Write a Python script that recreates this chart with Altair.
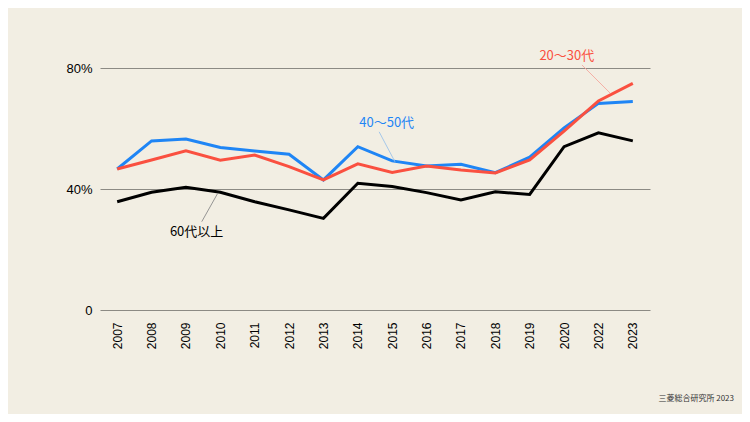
import altair as alt
import pandas as pd

years = ["2007", "2008", "2009", "2010", "2011", "2012", "2013", "2014", "2015",
         "2016", "2017", "2018", "2019", "2020", "2022", "2023"]
s_2030 = [46.6, 49.6, 52.6, 49.5, 51.2, 47.4, 43.0, 48.3, 45.5, 47.6, 46.3, 45.3, 49.6, 59.1, 69.1, 74.9]
s_4050 = [46.6, 55.9, 56.5, 53.7, 52.6, 51.5, 43.0, 54.0, 49.3, 47.6, 48.2, 45.4, 50.5, 60.2, 68.3, 68.9]
s_60 = [35.8, 38.9, 40.6, 38.9, 35.8, 33.1, 30.3, 41.9, 40.8, 38.8, 36.4, 39.1, 38.2, 54.0, 58.6, 55.9]

series_names = ["60代以上", "40〜50代", "20〜30代"]
series_colors = ["#000000", "#1f85f5", "#fa5040"]
leader_colors = ["#8a8a8a", "#9cc3ea", "#f5a89e"]

# annotation positions (index units on x, percent on y)
label_x = [2.31, 7.84, 13.08]
label_y = [25.9, 61.7, 84.0]
lead_x1 = [2.46, 8.08, 14.34]
lead_y1 = [29.2, 49.0, 71.7]
lead_x2 = [2.93, 7.62, 13.52]
lead_y2 = [38.7, 58.9, 81.0]

rows = []
for name, vals in zip(series_names, [s_60, s_4050, s_2030]):
    for i, v in enumerate(vals):
        rows.append({"i": i, "value": v, "series": name})
df = pd.DataFrame(rows)

ann = pd.DataFrame({
    "series": series_names, "lx": label_x, "ly": label_y,
    "x1": lead_x1, "y1": lead_y1, "x2": lead_x2, "y2": lead_y2,
})

bg = "#f2eee3"
year_arr = "[" + ",".join("'" + y + "'" for y in years) + "]"

xscale = alt.Scale(domain=[-0.5, len(years) - 0.5], nice=False, zero=False)
yscale = alt.Scale(domain=[0, 80], nice=False)

xaxis = alt.Axis(values=list(range(len(years))), labelExpr=year_arr + "[datum.value]",
                 labelAngle=-90, labelAlign="right", labelBaseline="middle",
                 labelFont="Liberation Sans", labelFontSize=12, labelColor="#000",
                 labelPadding=12, labelOverlap=False, labelBound=False, labelFlush=False,
                 ticks=False, domain=False, grid=False, title=None)
yaxis = alt.Axis(values=[0, 40, 80], labelExpr="datum.value == 0 ? '0' : datum.value + '%'",
                 labelFont="Liberation Sans", labelFontSize=13, labelColor="#000",
                 labelPadding=8, labelOverlap=False, ticks=False, domain=False, grid=True,
                 gridColor="#8c8a84", gridWidth=1, title=None)

color_scale = alt.Scale(domain=series_names, range=series_colors)
lead_scale = alt.Scale(domain=series_names, range=leader_colors)

lines_layers = [
    alt.Chart(df[df.series == n]).mark_line(strokeWidth=3, color=c).encode(
        x=alt.X("i:Q", scale=xscale, axis=xaxis), y=alt.Y("value:Q", scale=yscale, axis=yaxis))
    for n, c in zip(series_names, series_colors)
]

leaders = alt.Chart(ann).mark_rule(strokeWidth=0.9).encode(
    x=alt.X("x1:Q", scale=xscale, axis=xaxis), y=alt.Y("y1:Q", scale=yscale, axis=yaxis),
    x2="x2:Q", y2="y2:Q",
    color=alt.Color("series:N", scale=lead_scale, legend=None),
)

labels = alt.Chart(ann).mark_text(font="Noto Sans CJK JP", fontSize=13, align="center",
                                   baseline="middle").encode(
    x=alt.X("lx:Q", scale=xscale, axis=xaxis), y=alt.Y("ly:Q", scale=yscale, axis=yaxis),
    text="series:N",
    color=alt.Color("series:N", scale=color_scale, legend=None),
)

source = alt.Chart(pd.DataFrame({"t": ["三菱総合研究所 2023"]})).mark_text(
    font="Noto Sans CJK JP", fontSize=8, align="right", baseline="middle", color="#333"
).encode(x=alt.value(634), y=alt.value(331), text="t:N")

chart = alt.layer(*lines_layers, leaders, labels, source).properties(
    width=550, height=242,
    background=bg,
    padding={"left": 92, "top": 60, "right": 92, "bottom": 104},
    autosize=alt.AutoSizeParams(type="none"),
).configure_view(stroke=None).configure_axis(labelOverlap=False).resolve_scale(color="independent")

chart.save("out.html", embed_options={"renderer": "svg", "actions": False})
